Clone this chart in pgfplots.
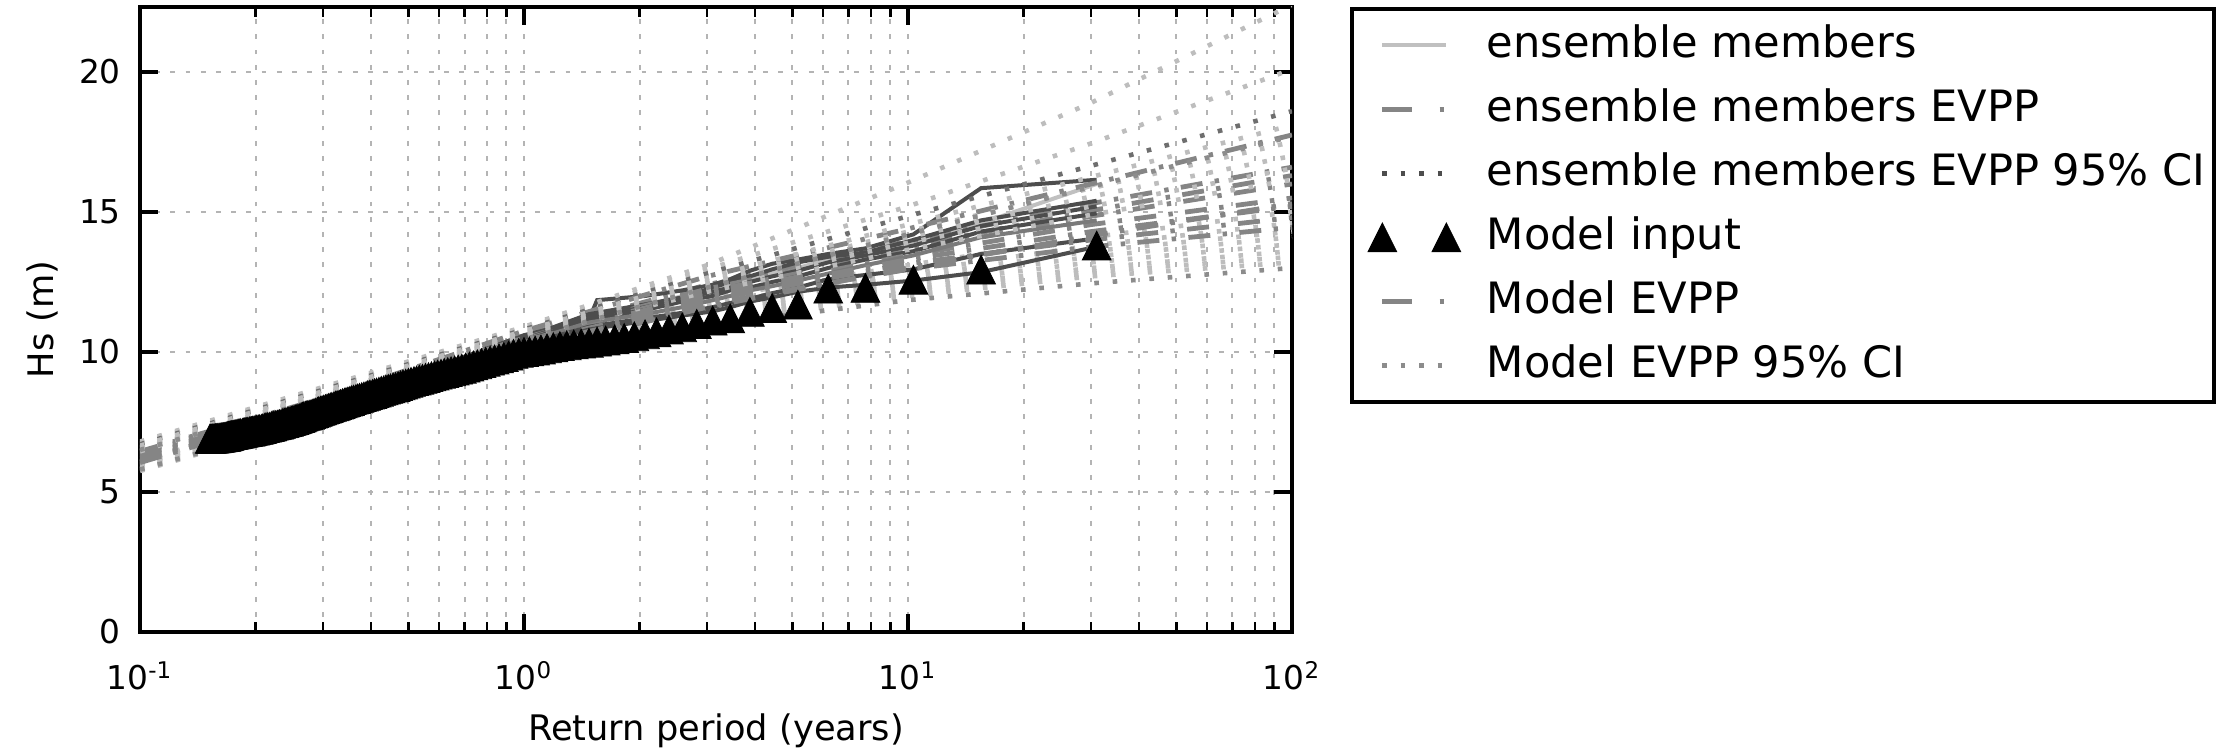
\documentclass[border=0pt]{standalone}
\usepackage{fontspec}
\setmainfont{DejaVu Sans}
\usepackage{pgfplots}
\usepackage{pgfplotstable}
\pgfplotsset{compat=1.18}
\definecolor{cdark}{HTML}{4D4D4D}
\definecolor{clight}{HTML}{C0C0C0}
\definecolor{cmid}{HTML}{7A7A7A}
\definecolor{cevpp}{HTML}{858585}
\definecolor{cci}{HTML}{BDBDBD}
\definecolor{ccidark}{HTML}{6E6E6E}
\definecolor{cmodci}{HTML}{8C8C8C}
\definecolor{cgrid}{HTML}{B4B4B4}

\pgfdeclareplotmark{mtri}{%
  \pgfpathmoveto{\pgfqpoint{0pt}{\pgfplotmarksize}}%
  \pgfpathlineto{\pgfqpoint{-\pgfplotmarksize}{-\pgfplotmarksize}}%
  \pgfpathlineto{\pgfqpoint{\pgfplotmarksize}{-\pgfplotmarksize}}%
  \pgfpathclose
  \pgfusepathqfillstroke}

\pgfplotsset{
  mem/.style={line width=1pt, no marks},
  evpp/.style={color=cevpp, line width=1.2pt, no marks, dash pattern=on 5.5pt off 3.1pt on 1.1pt off 3.1pt},
  ci/.style={color=cci, line width=1.15pt, no marks, dash pattern=on 1.15pt off 3.45pt},
  trileg/.style={legend image code/.code={\path (0pt,0pt); \draw[##1] plot coordinates {(5pt,0pt) (21pt,0pt)};}},
}

% ensemble members (empirical return levels)
\pgfplotstableread{
x      M1    M2    M3    M4    M5    M6    M7    M8
31     16.15 16.0  15.4  15.2  14.95 14.7  14.06 13.76
15.5   15.85 14.6  14.7  14.5  14.3  14.1  13.5  12.85
10.333 14.2  13.9  14.0  13.8  13.6  13.45 12.95 12.55
7.75   13.7  13.6  13.55 13.45 13.3  13.1  12.75 12.4
6.2    13.5  13.3  13.4  13.2  13.0  12.8  12.6  12.3
5.167  13.3  13.0  13.2  12.9  12.7  12.55 12.3  12.15
4.429  13.15 12.8  12.95 12.7  12.5  12.35 12.1  11.95
3.875  12.9  12.6  12.7  12.5  12.3  12.2  11.9  11.8
3.444  12.6  12.4  12.5  12.3  12.2  12.0  11.75 11.6
3.1    12.4  12.2  12.3  12.15 12.0  11.85 11.6  11.45
2.583  12.2  12.0  11.95 11.9  11.8  11.6  11.4  11.3
2.067  12.0  11.6  11.7  11.6  11.5  11.35 11.2  11.1
1.55   11.85 11.3  11.4  11.3  11.2  11.1  10.95 10.85
1.476  11.15 11.25 11.35 11.25 11.15 11.05 10.9  10.8
1.0    10.6  10.5  10.5  10.45 10.4  10.35 10.25 10.2
0.6    9.5   9.4   9.45  9.4   9.35  9.3   9.25  9.2
0.3    8.1   8.0   8.0   7.95  7.95  7.9   7.85  7.85
0.15   7.0   6.95  6.95  6.9   6.9   6.9   6.85  6.85
}\members

% EVPP fits (members E1..E8, model ME)
\pgfplotstableread{
x   E1    E2    E3    E4    E5    E6    E7    E8    ME
0.1 6.45  6.4   6.35  6.3   6.25  6.2   6.1   6.05  6.15
0.3 8.35  8.3   8.25  8.2   8.15  8.1   8.05  8.0   8.0
1   10.75 10.6  10.5  10.45 10.4  10.35 10.3  10.2  10.05
3   12.7  12.4  12.25 12.15 12.05 11.95 11.85 11.7  11.6
10  14.4  13.95 13.75 13.6  13.45 13.3  13.15 12.95 13.0
30  16.0  15.3  15.05 14.85 14.55 14.3  14.0  13.75 14.15
100 17.75 16.6  16.3  16.0  15.5  15.2  14.8  14.45 15.3
}\evpptab

% 95% confidence limits (upper U, lower L; model MU, ML)
\pgfplotstableread{
x   U1    U2    U3    U4    U5    U6    U7    U8    MU    L1    L2    L3    L4    L5    L6    L7    L8    ML
0.1 6.8   6.75  6.7   6.65  6.6   6.55  6.5   6.45  6.5   6.1   6.05  6.0   5.95  5.9   5.85  5.8   5.75  5.8
0.3 8.75  8.7   8.65  8.6   8.55  8.5   8.5   8.45  8.35  8.0   7.95  7.9   7.85  7.8   7.75  7.7   7.65  7.65
1   10.9  10.85 10.8  10.75 10.7  10.65 10.6  10.55 10.45 10.25 10.15 10.05 10.0  9.95  9.9   9.85  9.8   9.7
3   13.1  12.95 12.8  12.65 12.5  12.4  12.3  12.15 12.3  11.9  11.7  11.55 11.45 11.35 11.25 11.15 11.05 10.95
10  16.05 15.2  14.85 14.55 14.3  14.1  13.9  13.65 14.2  13.1  12.85 12.7  12.55 12.4  12.25 12.15 12.0  11.85
30  18.9  17.45 16.65 16.25 15.85 15.55 15.2  14.9  15.9  14.1  13.8  13.6  13.4  13.2  13.0  12.85 12.7  12.45
100 22.4  20.1  18.6  18.1  17.5  17.0  16.55 16.15 17.7  15.0  14.6  14.3  14.1  13.85 13.6  13.4  13.2  13.0
}\citab

% model input (return period, Hs)
\pgfplotstableread{
x y
31 13.80
15.5 12.94
10.333 12.58
7.75 12.29
6.2 12.26
5.167 11.69
4.429 11.57
3.875 11.43
3.444 11.20
3.1 11.12
2.818 11.00
2.583 10.88
2.385 10.80
2.214 10.70
2.067 10.63
1.938 10.56
1.824 10.50
1.722 10.45
1.632 10.41
1.55 10.37
1.476 10.33
1.409 10.30
1.348 10.27
1.292 10.24
1.24 10.21
1.192 10.17
1.148 10.13
1.107 10.09
1.069 10.05
1.033 10.02
1.0 10.00
0.969 9.97
0.939 9.93
0.912 9.87
0.886 9.82
0.861 9.77
0.838 9.73
0.816 9.69
0.795 9.65
0.775 9.60
0.756 9.56
0.738 9.52
0.721 9.48
0.705 9.44
0.689 9.40
0.674 9.37
0.66 9.34
0.646 9.31
0.633 9.28
0.62 9.25
0.608 9.22
0.596 9.19
0.585 9.16
0.574 9.13
0.564 9.10
0.554 9.07
0.544 9.04
0.534 9.01
0.525 8.98
0.517 8.96
0.508 8.93
0.5 8.90
0.492 8.87
0.484 8.84
0.477 8.81
0.47 8.78
0.463 8.75
0.456 8.73
0.449 8.70
0.443 8.68
0.437 8.66
0.431 8.63
0.425 8.61
0.419 8.58
0.413 8.55
0.408 8.53
0.403 8.50
0.397 8.48
0.392 8.46
0.388 8.43
0.383 8.41
0.378 8.39
0.373 8.36
0.369 8.34
0.365 8.32
0.36 8.30
0.356 8.28
0.352 8.25
0.348 8.23
0.344 8.21
0.341 8.19
0.337 8.17
0.333 8.14
0.33 8.12
0.326 8.10
0.323 8.08
0.32 8.06
0.316 8.04
0.313 8.02
0.31 8.00
0.307 7.98
0.304 7.96
0.301 7.94
0.298 7.92
0.295 7.90
0.292 7.88
0.29 7.86
0.287 7.84
0.284 7.82
0.282 7.80
0.279 7.78
0.277 7.76
0.274 7.75
0.272 7.73
0.27 7.72
0.267 7.70
0.265 7.68
0.263 7.66
0.261 7.64
0.258 7.62
0.256 7.60
0.254 7.59
0.252 7.57
0.25 7.56
0.248 7.54
0.246 7.53
0.244 7.51
0.242 7.50
0.24 7.49
0.238 7.47
0.237 7.46
0.235 7.45
0.233 7.43
0.231 7.42
0.23 7.41
0.228 7.40
0.226 7.39
0.225 7.38
0.223 7.37
0.221 7.35
0.22 7.34
0.218 7.33
0.217 7.32
0.215 7.31
0.214 7.30
0.212 7.29
0.211 7.28
0.209 7.27
0.208 7.26
0.207 7.25
0.205 7.24
0.204 7.23
0.203 7.22
0.201 7.21
0.2 7.20
0.199 7.19
0.197 7.19
0.196 7.18
0.195 7.17
0.194 7.16
0.193 7.16
0.191 7.15
0.19 7.14
0.189 7.14
0.188 7.13
0.187 7.13
0.186 7.12
0.185 7.11
0.183 7.10
0.182 7.09
0.181 7.09
0.18 7.08
0.179 7.07
0.178 7.06
0.177 7.06
0.176 7.05
0.175 7.04
0.174 7.03
0.173 7.03
0.172 7.02
0.171 7.01
0.17 7.00
0.169 6.99
0.168 6.98
0.1676 6.97
0.1667 6.97
0.1658 6.96
0.1649 6.96
0.164 6.95
0.1632 6.95
0.1623 6.94
0.1615 6.94
0.1606 6.93
0.1598 6.93
0.159 6.93
0.1582 6.92
0.1574 6.92
0.1566 6.92
0.1558 6.91
0.155 6.91
0.1542 6.91
0.1535 6.90
0.1527 6.90
0.152 6.90
}\modelinput

\begin{document}
\begin{tikzpicture}
\useasboundingbox (0,0) rectangle (554pt,187.5pt);
\begin{axis}[
  at={(35pt,29.5pt)}, anchor=south west,
  scale only axis, width=288pt, height=156.25pt,
  xmode=log, log basis x=10,
  xmin=0.1, xmax=100, ymin=0, ymax=22.32,
  xtick={0.1,1,10,100},
  xticklabels={10\textsuperscript{-1},10\textsuperscript{0},10\textsuperscript{1},10\textsuperscript{2}},
  minor xtick={0.2,0.3,0.4,0.5,0.6,0.7,0.8,0.9,2,3,4,5,6,7,8,9,20,30,40,50,60,70,80,90},
  ytick={0,5,10,15,20}, yticklabels={0,5,10,15,20},
  grid=both,
  major grid style={color=cgrid, line width=0.5pt, dash pattern=on 1.2pt off 2.6pt},
  minor grid style={color=cgrid, line width=0.5pt, dash pattern=on 1.2pt off 2.6pt},
  axis line style={line width=1.1pt},
  major tick length=4.5pt, minor tick length=2.5pt,
  major tick style={line width=0.8pt, black},
  minor tick style={line width=0.6pt, black},
  tick label style={font=\fontsize{8.2}{9.8}\selectfont},
  xticklabel style={anchor=base, inner sep=0pt, yshift=-14.4pt},
  yticklabel style={anchor=east, inner sep=0pt, xshift=-4.6pt},
  xlabel={Return period (years)},
  ylabel={Hs (m)},
  every axis x label/.style={at={(axis description cs:0.5,0)}, anchor=base, yshift=-27.15pt, font=\fontsize{8.8}{10}\selectfont},
  every axis y label/.style={at={(axis description cs:-0.0847,0.5)}, rotate=90, anchor=center, font=\fontsize{8.8}{10}\selectfont},
  legend image code/.code={\path (0pt,0pt); \draw[#1] (5pt,0pt) -- (21pt,0pt);},
  legend cell align=left,
  legend style={at={(1.0503,1)}, anchor=north west, draw=black, line width=1pt, fill=white,
    font=\fontsize{10.8}{13}\selectfont,
    inner xsep=2pt, inner ysep=3.6pt, row sep=5.0pt, column sep=6.5pt,
    nodes={inner sep=0pt, text height=8.5pt, text depth=2.5pt}},
]
% ---- ensemble members: empirical, EVPP, 95% CI ----
\addplot[mem, color=clight, forget plot] table[x=x, y=M2] {\members};
\addplot[evpp, forget plot] table[x=x, y=E2] {\evpptab};
\addplot[ci, forget plot] table[x=x, y=U2] {\citab};
\addplot[ci, forget plot] table[x=x, y=L2] {\citab};
\addplot[mem, color=cdark, forget plot] table[x=x, y=M1] {\members};
\addplot[evpp, forget plot] table[x=x, y=E1] {\evpptab};
\addplot[ci, forget plot] table[x=x, y=U1] {\citab};
\addplot[ci, forget plot] table[x=x, y=L1] {\citab};
\addplot[mem, color=cdark, forget plot] table[x=x, y=M3] {\members};
\addplot[evpp, forget plot] table[x=x, y=E3] {\evpptab};
\addplot[ci, color=ccidark, forget plot] table[x=x, y=U3] {\citab};
\addplot[ci, forget plot] table[x=x, y=L3] {\citab};
\addplot[mem, color=cdark, forget plot] table[x=x, y=M4] {\members};
\addplot[evpp, forget plot] table[x=x, y=E4] {\evpptab};
\addplot[ci, forget plot] table[x=x, y=U4] {\citab};
\addplot[ci, forget plot] table[x=x, y=L4] {\citab};
\addplot[mem, color=cdark, forget plot] table[x=x, y=M5] {\members};
\addplot[evpp, forget plot] table[x=x, y=E5] {\evpptab};
\addplot[ci, forget plot] table[x=x, y=U5] {\citab};
\addplot[ci, forget plot] table[x=x, y=L5] {\citab};
\addplot[mem, color=cmid, forget plot] table[x=x, y=M6] {\members};
\addplot[evpp, forget plot] table[x=x, y=E6] {\evpptab};
\addplot[ci, forget plot] table[x=x, y=U6] {\citab};
\addplot[ci, forget plot] table[x=x, y=L6] {\citab};
\addplot[mem, color=cdark, forget plot] table[x=x, y=M7] {\members};
\addplot[evpp, forget plot] table[x=x, y=E7] {\evpptab};
\addplot[ci, forget plot] table[x=x, y=U7] {\citab};
\addplot[ci, forget plot] table[x=x, y=L7] {\citab};
\addplot[mem, color=cdark, forget plot] table[x=x, y=M8] {\members};
\addplot[evpp, forget plot] table[x=x, y=E8] {\evpptab};
\addplot[ci, forget plot] table[x=x, y=U8] {\citab};
\addplot[ci, forget plot] table[x=x, y=L8] {\citab};
% ---- model EVPP and CI ----
\addplot[evpp, forget plot] table[x=x, y=ME] {\evpptab};
\addplot[ci, color=cmodci, forget plot] table[x=x, y=MU] {\citab};
\addplot[ci, color=cmodci, forget plot] table[x=x, y=ML] {\citab};
% ---- model input ----
\addplot[only marks, mark=mtri, mark size=3.6pt, mark options={fill=black, draw=black, line width=0.2pt}, forget plot] table[x=x, y=y] {\modelinput};
% ---- legend ----
\addlegendimage{color=clight, line width=1pt}
\addlegendentry{ensemble members}
\addlegendimage{color=cevpp, line width=1.2pt, dash pattern=on 7.3pt off 7pt on 1.1pt off 7pt}
\addlegendentry{ensemble members EVPP}
\addlegendimage{color=cdark, line width=1.15pt, dash pattern=on 1.15pt off 3.45pt}
\addlegendentry{ensemble members EVPP 95\% CI}
\addlegendimage{only marks, mark=mtri, mark size=3.6pt, mark options={fill=black, draw=black, line width=0.2pt}, trileg}
\addlegendentry{Model input}
\addlegendimage{color=cevpp, line width=1.2pt, dash pattern=on 7.3pt off 7pt on 1.1pt off 7pt}
\addlegendentry{Model EVPP}
\addlegendimage{color=cmodci, line width=1.15pt, dash pattern=on 1.15pt off 3.45pt}
\addlegendentry{Model EVPP 95\% CI}
\end{axis}
\end{tikzpicture}
\end{document}
